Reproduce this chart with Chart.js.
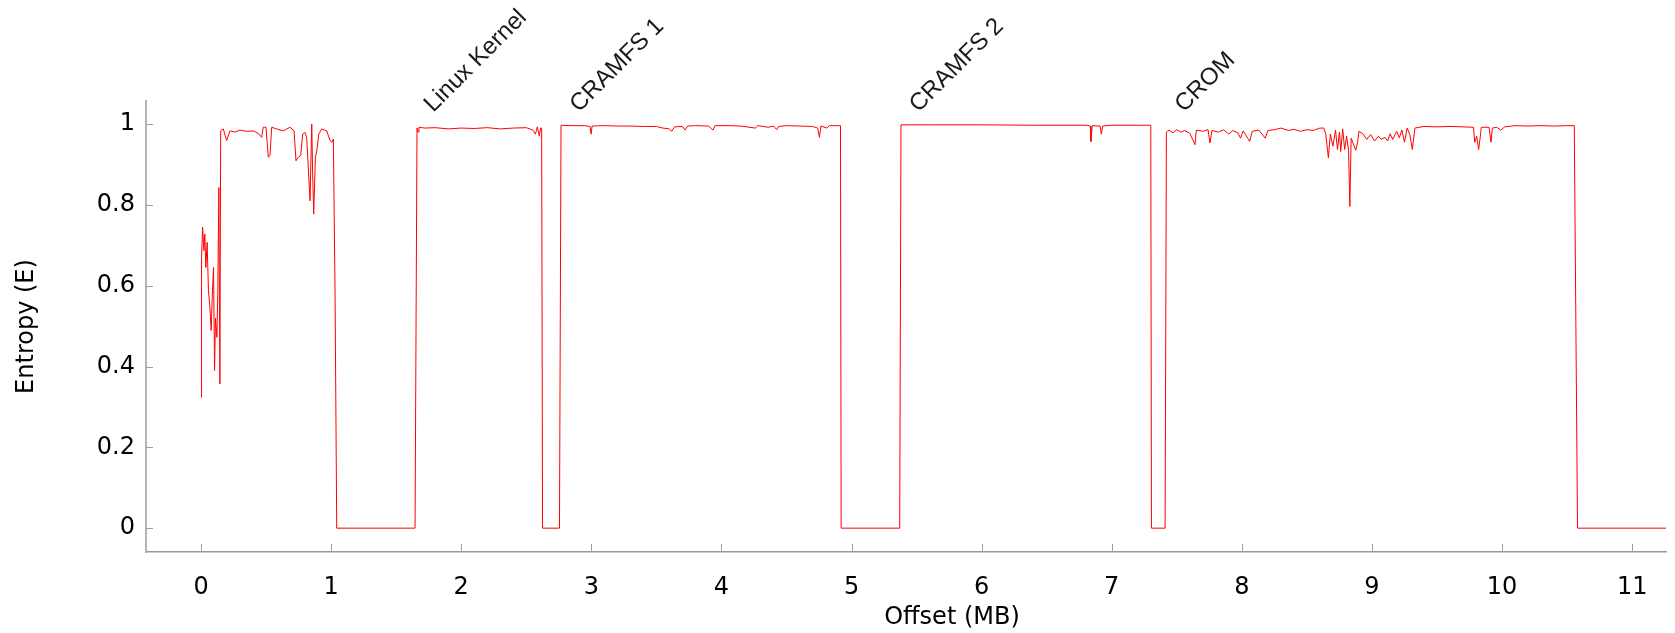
<!DOCTYPE html>
<html lang="en">
<head>
<meta charset="UTF-8">
<title>Entropy</title>
<script src="https://cdn.jsdelivr.net/npm/chart.js"></script>
<style>
  body { margin: 0; background: #fff; }
  .wrap { width: 1675px; height: 633px; }
</style>
</head>
<body>
<div class="wrap"><canvas id="grafico" width="1675" height="633"></canvas></div>
<script>
// offsets in MB
const offsetMB = [
  0, 0.004, 0.012, 0.022, 0.029, 0.037, 0.047, 0.057, 0.068, 0.078, 0.088, 0.096, 0.104, 0.111, 0.122, 0.129, 0.137, 0.145,
  0.151, 0.171, 0.197, 0.222, 0.26, 0.299, 0.35, 0.402, 0.44, 0.466, 0.478, 0.499, 0.517, 0.53, 0.543, 0.581, 0.632, 0.684,
  0.715, 0.73, 0.748, 0.766, 0.781, 0.799, 0.812, 0.838, 0.851, 0.858, 0.866, 0.879, 0.89, 0.905, 0.928, 0.966, 0.992, 1.007,
  1.017, 1.03, 1.043,
  1.645, 1.66, 1.668, 1.675, 1.72, 1.8, 1.9, 2.0, 2.1, 2.2, 2.3, 2.4, 2.5, 2.55, 2.57, 2.585, 2.6, 2.61, 2.618, 2.625,
  2.755, 2.767, 2.85, 2.95, 2.99, 2.998, 3.006, 3.1, 3.2, 3.3, 3.4, 3.5, 3.55, 3.6, 3.617, 3.64, 3.7, 3.72, 3.74, 3.8, 3.9,
  3.935, 3.95, 4.05, 4.15, 4.26, 4.28, 4.36, 4.4, 4.425, 4.44, 4.5, 4.6, 4.7, 4.74, 4.753, 4.765, 4.81, 4.83, 4.9, 4.915, 4.92,
  5.37, 5.38, 5.6, 6.0, 6.4, 6.8, 6.835, 6.84, 6.85, 6.91, 6.92, 6.93, 7.0, 7.2, 7.3, 7.305,
  7.41, 7.42, 7.44, 7.47, 7.5, 7.53, 7.56, 7.6, 7.64, 7.65, 7.7, 7.74, 7.755, 7.77, 7.82, 7.86, 7.9, 7.93, 7.97, 7.99, 8.01,
  8.06, 8.08, 8.13, 8.18, 8.2, 8.25, 8.3, 8.36, 8.4, 8.45, 8.5, 8.55, 8.6, 8.63, 8.645, 8.665, 8.68, 8.7, 8.72, 8.735, 8.75,
  8.76, 8.775, 8.79, 8.805, 8.82, 8.83, 8.84, 8.86, 8.875, 8.89, 8.9, 8.93, 8.96, 8.99, 9.02, 9.05, 9.07, 9.1, 9.12, 9.14,
  9.16, 9.19, 9.21, 9.23, 9.25, 9.27, 9.29, 9.31, 9.33, 9.4, 9.5, 9.6, 9.7, 9.78, 9.79, 9.805, 9.82, 9.835, 9.84, 9.9, 9.915,
  9.925, 9.96, 9.99, 10.02, 10.1, 10.2, 10.3, 10.4, 10.5, 10.555, 10.58, 11.26
];
const entropy = [
  0.324, 0.67, 0.745, 0.687, 0.728, 0.645, 0.707, 0.588, 0.547, 0.489, 0.588, 0.645, 0.39, 0.52, 0.472, 0.588, 0.843, 0.357,
  0.983, 0.988, 0.959, 0.983, 0.98, 0.985, 0.982, 0.983, 0.977, 0.967, 0.992, 0.992, 0.918, 0.922, 0.992, 0.988, 0.983, 0.992,
  0.983, 0.909, 0.918, 0.922, 0.975, 0.979, 0.967, 0.81, 1.0, 0.876, 0.777, 0.918, 0.934, 0.975, 0.988, 0.983, 0.959, 0.955,
  0.963, 0.588, 0,
  0, 0.99, 0.98, 0.992, 0.99, 0.991, 0.988, 0.99, 0.989, 0.991, 0.988, 0.99, 0.991, 0.985, 0.975, 0.993, 0.97, 0.99, 0.99, 0,
  0, 0.997, 0.996, 0.996, 0.994, 0.975, 0.995, 0.996, 0.995, 0.995, 0.994, 0.994, 0.99, 0.988, 0.982, 0.993, 0.994, 0.985, 0.995, 0.996, 0.995,
  0.985, 0.996, 0.996, 0.995, 0.99, 0.996, 0.992, 0.995, 0.986, 0.994, 0.996, 0.995, 0.994, 0.99, 0.967, 0.995, 0.99, 0.996, 0.996, 0.996, 0,
  0, 0.998, 0.998, 0.998, 0.997, 0.997, 0.995, 0.957, 0.996, 0.995, 0.975, 0.995, 0.997, 0.997, 0.997, 0,
  0, 0.98, 0.985, 0.978, 0.986, 0.98, 0.984, 0.977, 0.949, 0.985, 0.982, 0.986, 0.953, 0.984, 0.98, 0.986, 0.975, 0.984, 0.978, 0.965, 0.983,
  0.957, 0.982, 0.985, 0.965, 0.984, 0.986, 0.99, 0.984, 0.987, 0.982, 0.986, 0.984, 0.99, 0.99, 0.975, 0.916, 0.975, 0.945, 0.985, 0.937, 0.98,
  0.932, 0.988, 0.937, 0.97, 0.935, 0.796, 0.965, 0.948, 0.935, 0.955, 0.982, 0.976, 0.962, 0.974, 0.958, 0.97, 0.962, 0.967, 0.958, 0.976,
  0.962, 0.982, 0.966, 0.985, 0.955, 0.99, 0.975, 0.937, 0.99, 0.994, 0.993, 0.994, 0.993, 0.992, 0.955, 0.97, 0.937, 0.975, 0.992, 0.992, 0.955,
  0.99, 0.992, 0.985, 0.993, 0.996, 0.995, 0.996, 0.995, 0.996, 0.996, 0, 0
];

const xTicks = [0, 1, 2, 3, 4, 5, 6, 7, 8, 9, 10, 11];
const yTicks = [0, 0.2, 0.4, 0.6, 0.8, 1];
const yTickLabels = ['0', '0.2', '0.4', '0.6', '0.8', '1'];

const regionNames = ['Linux Kernel', 'CRAMFS 1', 'CRAMFS 2', 'CROM'];
const regionOffsets = [1.785, 2.905, 5.515, 7.555];

// ticks pointing inward, region labels and axis titles
const decoracoes = {
  id: 'decoracoes',
  afterDraw(chart) {
    const { ctx, chartArea, scales: { x, y } } = chart;
    ctx.save();
    ctx.strokeStyle = '#a0a0a0';
    ctx.lineWidth = 1;
    xTicks.forEach(v => {
      const px = Math.round(x.getPixelForValue(v)) + 0.5;
      ctx.beginPath();
      ctx.moveTo(px, chartArea.bottom);
      ctx.lineTo(px, chartArea.bottom - 8);
      ctx.stroke();
    });
    yTicks.forEach(v => {
      const py = Math.round(y.getPixelForValue(v)) + 0.5;
      ctx.beginPath();
      ctx.moveTo(chartArea.left, py);
      ctx.lineTo(chartArea.left + 7, py);
      ctx.stroke();
    });

    ctx.fillStyle = '#1a1a1a';
    ctx.font = '24px "Liberation Sans"';
    ctx.textAlign = 'left';
    ctx.textBaseline = 'alphabetic';
    regionNames.forEach((nome, i) => {
      ctx.save();
      ctx.translate(x.getPixelForValue(regionOffsets[i]), 113);
      ctx.rotate(-Math.PI / 4);
      ctx.fillText(nome, 0, 0);
      ctx.restore();
    });

    ctx.fillStyle = '#000';
    ctx.font = '24px "DejaVu Sans"';
    ctx.textAlign = 'center';
    ctx.textBaseline = 'middle';
    ctx.fillText('Offset (MB)', 952, 618);
    ctx.save();
    ctx.translate(27, (chartArea.top + chartArea.bottom) / 2);
    ctx.rotate(-Math.PI / 2);
    ctx.fillText('Entropy (E)', 0, 0);
    ctx.restore();
    ctx.restore();
  }
};

const config = {
  type: 'line',
  data: {
    datasets: [{
      data: offsetMB.map((v, i) => ({ x: v, y: entropy[i] })),
      borderColor: '#ff0000',
      borderWidth: 1,
      pointRadius: 0,
      tension: 0,
      fill: false
    }]
  },
  options: {
    responsive: false,
    animation: false,
    layout: { padding: { top: 101, right: 9, left: 0, bottom: 0 } },
    plugins: {
      legend: { display: false },
      tooltip: { enabled: false }
    },
    scales: {
      x: {
        type: 'linear',
        min: -0.423,
        max: 11.26,
        afterBuildTicks: s => { s.ticks = xTicks.map(v => ({ value: v })); },
        afterFit: s => { s.height = 81; },
        ticks: {
          color: '#000',
          padding: 21,
          maxRotation: 0,
          autoSkip: false,
          font: { family: 'DejaVu Sans', size: 24 },
          callback: v => String(v)
        },
        grid: { display: false, drawTicks: false },
        border: { color: '#9a9a9a', width: 1.5 }
      },
      y: {
        min: -0.059,
        max: 1.057,
        afterBuildTicks: s => { s.ticks = yTicks.map(v => ({ value: v })); },
        afterFit: s => { s.width = 146; },
        ticks: {
          color: '#000',
          padding: 11,
          font: { family: 'DejaVu Sans', size: 24 },
          callback: v => yTickLabels[yTicks.indexOf(v)]
        },
        grid: { display: false, drawTicks: false },
        border: { color: '#b5b5b5', width: 2 }
      }
    }
  },
  plugins: [decoracoes]
};

let grafico = new Chart(document.getElementById('grafico'), config);
</script>
</body>
</html>
